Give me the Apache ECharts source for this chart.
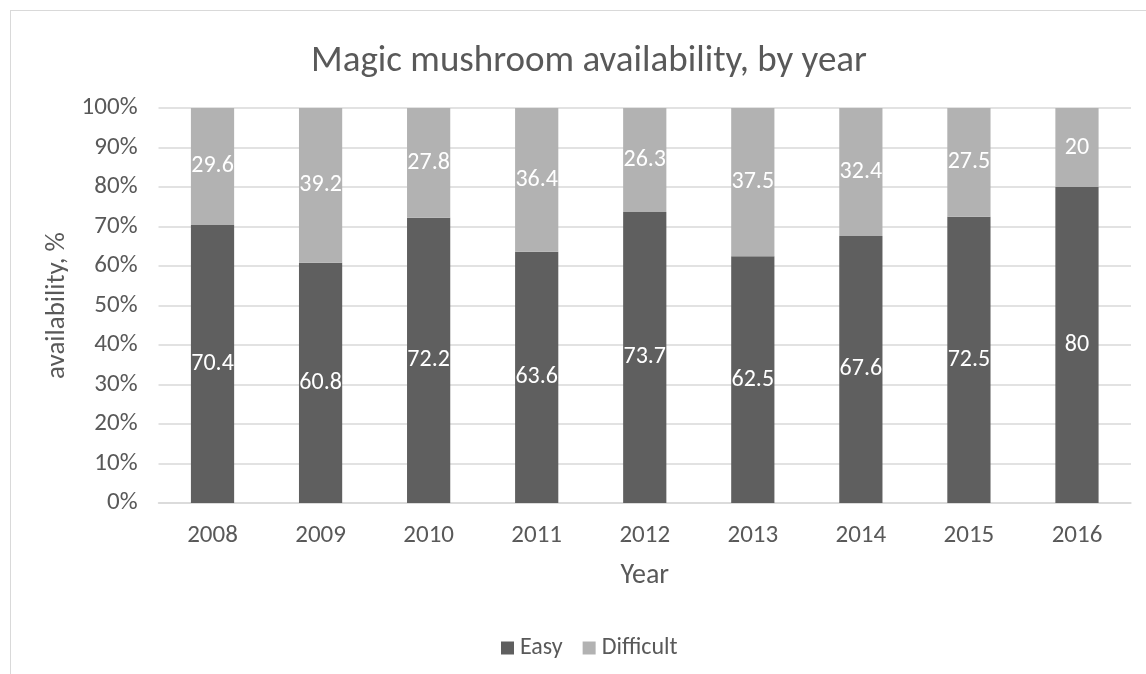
<!DOCTYPE html>
<html>
<head>
<meta charset="utf-8">
<script src="https://cdn.jsdelivr.net/npm/echarts@6/dist/echarts.min.js"></script>
<style>
  html, body { margin: 0; padding: 0; background: #fff; }
  #frame { position: absolute; left: 10px; top: 10px; width: 1146px; height: 680px; border: 1px solid #d9d9d9; box-sizing: border-box; }
  #chart { position: absolute; left: 0; top: 0; width: 1146px; height: 674px; }
</style>
</head>
<body>
<div id="frame"></div>
<div id="chart"></div>
<script>
// Survey results: share of respondents finding magic mushrooms easy / difficult to obtain
const years = ['2008', '2009', '2010', '2011', '2012', '2013', '2014', '2015', '2016'];
const easy = [70.4, 60.8, 72.2, 63.6, 73.7, 62.5, 67.6, 72.5, 80];
const difficult = [29.6, 39.2, 27.8, 36.4, 26.3, 37.5, 32.4, 27.5, 20];

const FONT = 'Carlito, "Open Sans", "Noto Sans", sans-serif';
const TEXT = '#595959';

const chart = echarts.init(document.getElementById('chart'), null, { renderer: 'canvas' });

const segLabel = {
  show: true,
  position: 'inside',
  color: '#ffffff',
  fontSize: 24,
  fontFamily: FONT
};

chart.setOption({
  animation: false,
  textStyle: { fontFamily: FONT },
  title: {
    text: 'Magic mushroom availability, by year',
    left: 584,
    textAlign: 'center',
    top: 38,
    textStyle: { color: TEXT, fontSize: 37, fontWeight: 'normal', fontFamily: FONT }
  },
  legend: {
    data: ['Easy', 'Difficult'],
    left: 496,
    top: 631,
    itemWidth: 13,
    itemHeight: 13,
    itemGap: 20,
    icon: 'rect',
    textStyle: { color: TEXT, fontSize: 24, fontFamily: FONT, padding: [0, 0, 0, 1] }
  },
  grid: { left: 158.5, right: 15, top: 108, bottom: 171, containLabel: false },
  xAxis: {
    type: 'category',
    data: years,
    name: 'Year',
    nameLocation: 'middle',
    nameGap: 59,
    nameTextStyle: { color: TEXT, fontSize: 28, fontFamily: FONT },
    axisLine: { show: true, lineStyle: { color: '#d9d9d9', width: 1.5 } },
    axisTick: { show: false },
    axisLabel: { color: TEXT, fontSize: 25, margin: 20, fontFamily: FONT }
  },
  yAxis: {
    type: 'value',
    min: 0,
    max: 100,
    interval: 10,
    name: 'availability, %',
    nameLocation: 'middle',
    nameGap: 78,
    nameTextStyle: { color: TEXT, fontSize: 27, fontFamily: FONT },
    axisLine: { show: false },
    axisTick: { show: false },
    axisLabel: { color: TEXT, fontSize: 25, margin: 21, formatter: '{value}%', fontFamily: FONT },
    splitLine: { lineStyle: { color: '#d9d9d9', width: 1.5 } }
  },
  series: [
    {
      name: 'Easy',
      type: 'bar',
      stack: 'total',
      data: easy,
      barWidth: '40%',
      itemStyle: { color: '#5f5f5f' },
      label: segLabel
    },
    {
      name: 'Difficult',
      type: 'bar',
      stack: 'total',
      data: difficult,
      barWidth: '40%',
      itemStyle: { color: '#b2b2b2' },
      label: segLabel
    }
  ]
});
</script>
</body>
</html>
